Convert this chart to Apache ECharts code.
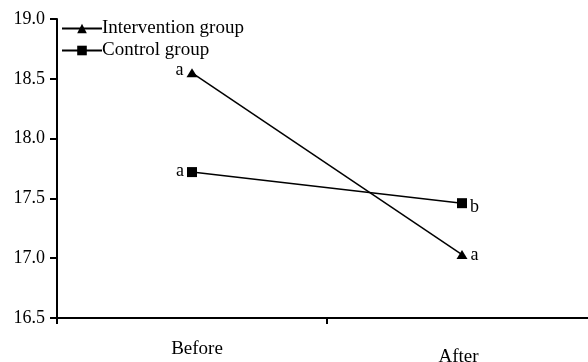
<!DOCTYPE html>
<html><head><meta charset="utf-8">
<script src="https://cdn.jsdelivr.net/npm/echarts@6/dist/echarts.min.js"></script>
<style>html,body{margin:0;padding:0;background:#fff}#c{width:588px;height:362px}</style>
</head><body><div id="c"></div>
<script>
const categories = ['Before', 'After'];
const interventionValues = [18.55, 17.03];
const controlValues = [17.72, 17.46];
const interventionLetters = ['a', 'a'];
const controlLetters = ['a', 'b'];
const yTicks = [16.5, 17.0, 17.5, 18.0, 18.5, 19.0];

const font = 'Liberation Serif, Times New Roman, serif';
function mk(vals, letters, offs) {
  return vals.map((v, i) => ({
    value: v,
    label: {
      show: true, formatter: letters[i],
      position: i === 0 ? 'left' : 'right',
      distance: 3,
      offset: offs[i],
      color: '#000', fontFamily: font, fontSize: 18
    }
  }));
}
const chart = echarts.init(document.getElementById('c'));
chart.setOption({
  animation: false,
  textStyle: { fontFamily: font, color: '#000' },
  grid: { left: 57, width: 540, top: 19, bottom: 44, containLabel: false, outerBoundsMode: 'none' },
  legend: {
    left: 56, top: 14, orient: 'vertical', itemGap: 3,
    itemWidth: 40, itemHeight: 12,
    textStyle: { fontFamily: font, fontSize: 19, color: '#000', padding: [0, 0, 0, -5] },
    data: ['Intervention group', 'Control group']
  },
  xAxis: {
    type: 'category', data: categories, boundaryGap: true,
    axisLine: { lineStyle: { color: '#000', width: 2 } },
    axisTick: { show: true, inside: false, length: 6, lineStyle: { color: '#000', width: 2 } },
    axisLabel: { color: '#000', fontFamily: font, fontSize: 19, margin: 22,
      formatter: v => v === 'After' ? '{b|' + v + '}' : '{a|' + v + '}',
      rich: { a: { fontFamily: font, fontSize: 19, color: '#000', padding: [0, 0, 0, 10] },
              b: { fontFamily: font, fontSize: 19, color: '#000', padding: [8, 7, 0, 0] } } }
  },
  yAxis: {
    type: 'value', min: yTicks[0], max: yTicks[yTicks.length - 1], interval: 0.5,
    axisLine: { show: true, lineStyle: { color: '#000', width: 2 } },
    axisTick: { show: true, length: 7, lineStyle: { color: '#000', width: 2 } },
    splitLine: { show: false },
    axisLabel: { color: '#000', fontFamily: font, fontSize: 18, margin: 12,
      formatter: v => v.toFixed(1) }
  },
  series: [
    { name: 'Intervention group', type: 'line',
      data: mk(interventionValues, interventionLetters, [[0, -3], [0, 1]]),
      symbol: 'triangle', symbolSize: [11, 9], color: '#000',
      lineStyle: { color: '#000', width: 1.5 }, itemStyle: { color: '#000' } },
    { name: 'Control group', type: 'line',
      data: mk(controlValues, controlLetters, [[0, -1], [0, 4]]),
      symbol: 'rect', symbolSize: 10, color: '#000',
      lineStyle: { color: '#000', width: 1.5 }, itemStyle: { color: '#000' } }
  ]
});
</script></body></html>
